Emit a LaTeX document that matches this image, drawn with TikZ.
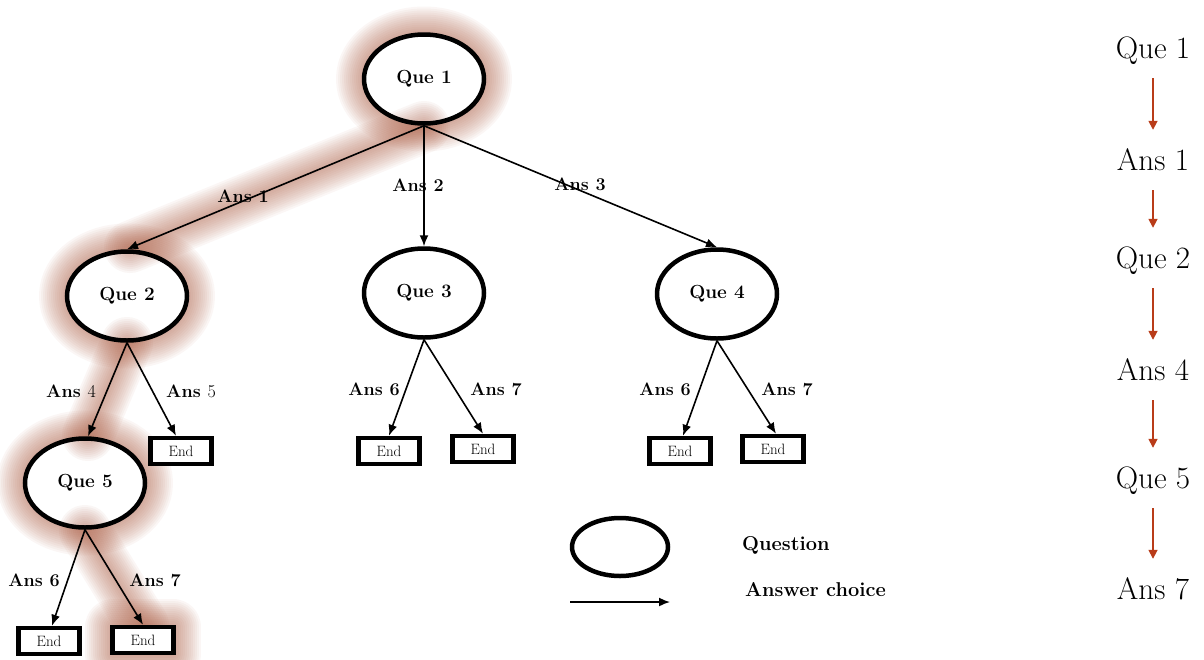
\documentclass[tikz,border=0pt]{standalone}
\usetikzlibrary{arrows.meta,shapes.geometric}
\definecolor{glowc}{RGB}{168,88,62}
\definecolor{pathred}{RGB}{185,60,25}
\tikzset{
  que/.style={ellipse, draw, line width=4.5pt, minimum width=120pt, minimum height=89pt,
    inner sep=0pt, font=\fontsize{19}{21}\selectfont\bfseries},
  endbox/.style={draw, line width=4.5pt, fill=white, minimum width=61pt, minimum height=26pt,
    inner sep=0pt, font=\fontsize{15}{17}\selectfont},
  ans/.style={font=\fontsize{18}{20}\selectfont\bfseries, inner sep=0pt},
  arr/.style={line width=1.6pt, -{Latex[length=11pt,width=9pt]}},
  legtext/.style={font=\fontsize{20}{22}\selectfont\bfseries, inner sep=0pt, anchor=west},
  seq/.style={font=\fontsize{31}{34}\selectfont, inner sep=0pt, anchor=base,
    text height=22pt, text depth=6pt},
  seqarr/.style={draw=pathred, line width=1.6pt, -{Triangle[length=9pt,width=9pt]},
    shorten <=14pt, shorten >=18pt},
  glow/.style={draw=glowc, opacity=0.05, line cap=round, line join=round},
}
\begin{document}
\begin{tikzpicture}[x=1pt,y=-1pt]
\useasboundingbox (0,0) rectangle (1204,659);

% soft halo round the chosen questions
\foreach \w in {4,8,...,56}{
  \draw[glow, line width=\w pt] (424,79) ellipse (60 and 44.5);
  \draw[glow, line width=\w pt] (127,296) ellipse (60 and 44.5);
  \draw[glow, line width=\w pt] (85,483) ellipse (60 and 44.5);
  \draw[glow, line width=\w pt] (113,627) rectangle (173,654);
}
% white interiors of the question ellipses
\fill[white] (424,79) ellipse (60 and 44.5);
\fill[white] (127,296) ellipse (60 and 44.5);
\fill[white] (85,483) ellipse (60 and 44.5);
\fill[white] (424,293) ellipse (60 and 44.5);
\fill[white] (717,294) ellipse (60 and 44.5);
% soft halo along the chosen answers
\foreach \w in {4,8,...,52}{
  \draw[glow, line width=\w pt] (424,127) -- (130,247);
  \draw[glow, line width=\w pt] (127,343) -- (88,435);
  \draw[glow, line width=\w pt] (85,531) -- (143,625);
}

% questions
\node[que] (q1) at (424,79) {Que 1};
\node[que] (q2) at (127,296) {Que 2};
\node[que] (q3) at (424,293) {Que 3};
\node[que] (q4) at (717,294) {Que 4};
\node[que] (q5) at (85,483) {Que 5};

% terminal boxes
\node[endbox] (e2a) at (181,451) {End};
\node[endbox] (e3a) at (389,451) {End};
\node[endbox] (e3b) at (483,449) {End};
\node[endbox] (e4a) at (680,451) {End};
\node[endbox] (e4b) at (773,449) {End};
\node[endbox] (e5a) at (49,641) {End};
\node[endbox] (e5b) at (143,640) {End};

% answer choices
\draw[arr] (q1.south) -- (q2.north);
\draw[arr] (q1.south) -- (q3.north);
\draw[arr] (q1.south) -- (q4.north);
\draw[arr] (q2.south) -- ([xshift=3pt]q5.north);
\draw[arr] (q2.south) -- ([xshift=-5pt]e2a.north);
\draw[arr] (q3.south) -- (e3a.north);
\draw[arr] (q3.south) -- (e3b.north);
\draw[arr] (q4.south) -- ([xshift=3pt]e4a.north);
\draw[arr] (q4.south) -- ([xshift=3pt]e4b.north);
\draw[arr] (q5.south) -- ([xshift=3pt]e5a.north);
\draw[arr] (q5.south) -- (e5b.north);

% answer labels
\node[ans] (l1) at (243,196) {Ans 1};
\node[ans] (l2) at (418,185) {Ans 2};
\node[ans] (l3) at (580,184) {Ans 3};
\node[ans] (l4) at (71,391) {Ans \mdseries 4};
\node[ans] (l5) at (191,391) {Ans \mdseries 5};
\node[ans] (l6) at (374,389) {Ans 6};
\node[ans] (l7) at (496,389) {Ans 7};
\node[ans] (l8) at (665,389) {Ans 6};
\node[ans] (l9) at (787,389) {Ans 7};
\node[ans] (l10) at (34,580) {Ans 6};
\node[ans] (l11) at (155,580) {Ans 7};

% legend
\node[ellipse, draw, line width=4.5pt, minimum width=96pt, minimum height=58pt] (lq) at (620,547) {};
\coordinate (la1) at (570,602);
\coordinate (la2) at (670,602);
\draw[arr] (la1) -- (la2);
\node[legtext] (lt1) at (742,545) {Question};
\node[legtext] (lt2) at (745,590) {Answer choice};

% selected sequence
\node[seq] (r1) at (1153,58) {Que 1};
\node[seq] (r2) at (1153,170) {Ans 1};
\node[seq] (r3) at (1153,268) {Que 2};
\node[seq] (r4) at (1153,380) {Ans 4};
\node[seq] (r5) at (1153,488) {Que 5};
\node[seq] (r6) at (1153,599) {Ans 7};
\draw[seqarr] (r1.south) -- (r2.north);
\draw[seqarr] (r2.south) -- (r3.north);
\draw[seqarr] (r3.south) -- (r4.north);
\draw[seqarr] (r4.south) -- (r5.north);
\draw[seqarr] (r5.south) -- (r6.north);
\end{tikzpicture}
\end{document}
